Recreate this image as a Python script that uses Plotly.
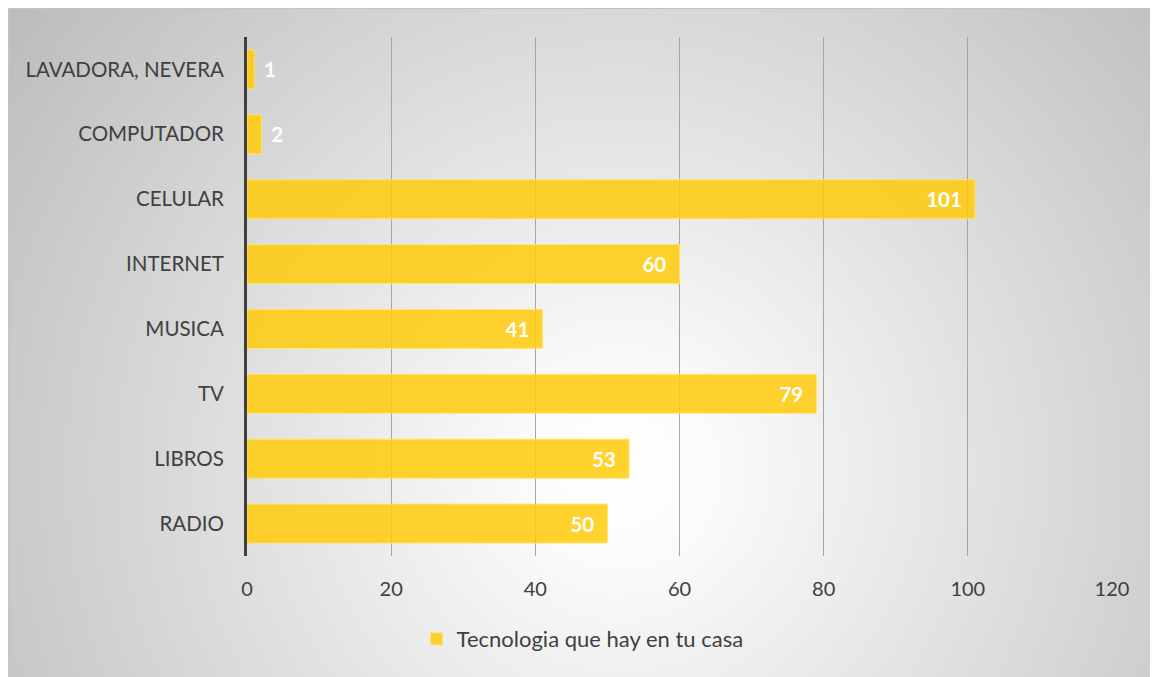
import plotly.graph_objects as go
import urllib.parse

categories = ["RADIO", "LIBROS", "TV", "MUSICA", "INTERNET", "CELULAR", "COMPUTADOR", "LAVADORA, NEVERA"]
values = [50, 53, 79, 41, 60, 101, 2, 1]
series_name = "Tecnologia que hay en tu casa"
x_ticks = [0, 20, 40, 60, 80, 100, 120]

# page has an 8px body margin, so the figure is 8px smaller and shifted
W, H = 1150, 669
L, R, T, B = 239, 46, 29, 121
pw, ph = W - L - R, H - T - B

text_pos = ["inside" if v > 10 else "outside" for v in values]
labels = [(str(v) + "\u2002") if v > 10 else ("\u2004" + str(v)) for v in values]

fig = go.Figure()
fig.add_trace(go.Bar(
    y=categories, x=values, orientation="h", name=series_name,
    width=0.6,
    marker=dict(color="rgba(255,202,8,0.85)", line=dict(color="rgba(255,228,110,0.9)", width=1)),
    text=labels, textposition=text_pos,
    insidetextanchor="end",
    textfont=dict(family="Lato, sans-serif", size=20.5, color="white", weight="bold"),
    cliponaxis=False,
))

svg = '''<svg xmlns="http://www.w3.org/2000/svg" width="1150" height="669" viewBox="0 0 1150 669" preserveAspectRatio="none">
<defs><radialGradient id="g" gradientUnits="userSpaceOnUse" cx="612" cy="462" r="760">
<stop offset="0" stop-color="#ffffff"/><stop offset="0.12" stop-color="#fbfbfb"/><stop offset="1" stop-color="#bcbcbc"/></radialGradient></defs>
<rect x="0" y="0" width="1150" height="669" fill="url(#g)"/>
<path d="M0.5,668 L0.5,0.5 L1150,0.5" fill="none" stroke="#c4c4c4" stroke-width="1"/></svg>'''
src = "data:image/svg+xml;charset=utf-8," + urllib.parse.quote(svg)

fig.add_layout_image(dict(
    source=src, xref="paper", yref="paper", x=-L / pw, y=(ph + T) / ph,
    sizex=W / pw, sizey=H / ph, xanchor="left", yanchor="top",
    sizing="stretch", layer="below", opacity=1,
))

fig.update_layout(
    width=W, height=H,
    margin=dict(l=L, r=R, t=T, b=B),
    paper_bgcolor="white", plot_bgcolor="rgba(0,0,0,0)",
    font=dict(family="Lato, sans-serif", size=20, color="#404040"),
    showlegend=True,
    legend=dict(orientation="h", x=0.388, xanchor="center", y=-0.16, yanchor="middle",
                font=dict(size=22, color="#404040"), bgcolor="rgba(0,0,0,0)",
                itemwidth=30),
    xaxis=dict(range=[0, 120], tickvals=x_ticks, showgrid=True, gridcolor="#a6a6a6", gridwidth=1,
               zeroline=False, showline=False, ticks="", ticklabelstandoff=19,
               tickfont=dict(size=20, color="#404040"), fixedrange=True),
    yaxis=dict(categoryorder="array", categoryarray=categories, showline=True, linecolor="#404040",
               linewidth=3, ticks="", ticklabelstandoff=16, showgrid=False,
               tickfont=dict(size=20.5, color="#404040"), fixedrange=True),
)

fig.write_html("out.html")
